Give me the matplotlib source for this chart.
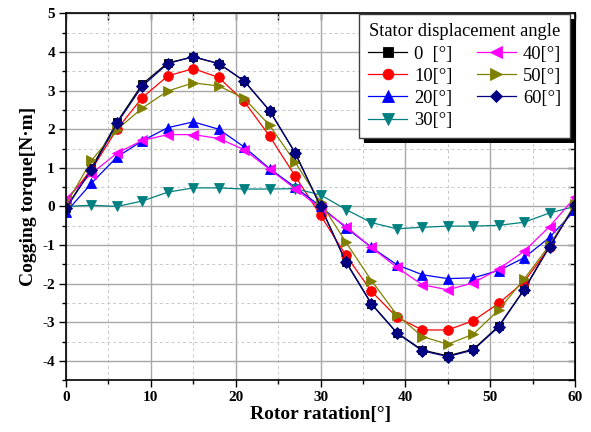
import matplotlib
matplotlib.use("Agg")
import matplotlib.pyplot as plt
from matplotlib.ticker import MultipleLocator
import matplotlib.patheffects as pe

rotor = [0, 3, 6, 9, 12, 15, 18, 21, 24, 27, 30, 33, 36, 39, 42, 45, 48, 51, 54, 57, 60]

t0  = [-0.05, 1.00, 2.18, 3.17, 3.72, 3.87, 3.70, 3.25, 2.48, 1.39, 0.00, -1.43, -2.52, -3.27, -3.72, -3.87, -3.70, -3.10, -2.15, -1.02, 0.02]
t10 = [0.15, 0.95, 2.00, 2.82, 3.38, 3.57, 3.34, 2.72, 1.82, 0.79, -0.23, -1.27, -2.20, -2.87, -3.20, -3.20, -2.96, -2.51, -1.95, -1.06, 0.05]
t20 = [-0.15, 0.60, 1.28, 1.70, 2.04, 2.19, 2.00, 1.54, 0.98, 0.50, 0.00, -0.55, -1.06, -1.51, -1.77, -1.87, -1.85, -1.66, -1.33, -0.80, -0.10]
t30 = [0.00, 0.03, 0.00, 0.14, 0.37, 0.48, 0.48, 0.45, 0.45, 0.46, 0.30, -0.08, -0.42, -0.58, -0.54, -0.51, -0.51, -0.49, -0.41, -0.17, 0.00]
t40 = [0.20, 0.85, 1.38, 1.71, 1.86, 1.86, 1.76, 1.47, 0.96, 0.46, -0.05, -0.52, -1.06, -1.58, -2.03, -2.16, -1.98, -1.62, -1.16, -0.52, 0.24]
t50 = [0.05, 1.19, 1.99, 2.55, 2.99, 3.20, 3.12, 2.80, 2.10, 1.15, 0.11, -0.93, -1.92, -2.81, -3.37, -3.57, -3.31, -2.68, -1.88, -1.00, 0.05]
t60 = [-0.05, 0.95, 2.15, 3.12, 3.70, 3.88, 3.70, 3.25, 2.48, 1.39, 0.00, -1.45, -2.53, -3.28, -3.74, -3.89, -3.72, -3.12, -2.16, -1.04, 0.03]

labels = ["0  [\u00b0]", "10[\u00b0]", "20[\u00b0]", "30[\u00b0]", "40[\u00b0]", "50[\u00b0]", "60[\u00b0]"]
series = [t0, t10, t20, t30, t40, t50, t60]
colors = ["#000000", "#FF0000", "#0000FF", "#008080", "#FF00FF", "#808000", "#000080"]
markers = ["s", "o", "^", "v", "<", ">", "D"]
msizes = [6, 7, 7.5, 7.5, 7.5, 7.5, 6]

plt.rcParams["font.family"] = ["Liberation Serif", "DejaVu Serif"]
plt.rcParams["axes.unicode_minus"] = False

fig = plt.figure(figsize=(5.91, 4.32), dpi=100)
ax = fig.add_axes([0.1117, 0.12, 0.8613, 0.849])

for y, lab, c, m, ms in zip(series, labels, colors, markers, msizes):
    ax.plot(rotor, y, color=c, marker=m, markersize=ms, linewidth=0.9,
            label=lab, markeredgewidth=0.6, markeredgecolor=c)

ax.set_xlim(0, 60)
ax.set_ylim(-4.5, 5)
ax.xaxis.set_major_locator(MultipleLocator(10))
ax.xaxis.set_minor_locator(MultipleLocator(5))
ax.yaxis.set_major_locator(MultipleLocator(1))
ax.yaxis.set_minor_locator(MultipleLocator(0.5))

ax.grid(which="major", color="#a8a8a8", linewidth=1.0, linestyle="-")
ax.grid(which="minor", color="#c8c8c8", linewidth=0.7, linestyle=(0, (3, 3)))
ax.set_axisbelow(True)

ax.tick_params(which="both", direction="out", top=False, right=False, width=1)
ax.tick_params(which="major", length=5, pad=3)
ax.tick_params(which="minor", length=3)
for s in ax.spines.values():
    s.set_linewidth(1.2)

# inward ticks on top and right
ax2 = ax.secondary_xaxis("top")
ax2.xaxis.set_major_locator(MultipleLocator(5))
ax2.tick_params(direction="in", length=5, labeltop=False, width=1)
ax3 = ax.secondary_yaxis("right")
ax3.yaxis.set_major_locator(MultipleLocator(0.5))
ax3.tick_params(direction="in", length=5, labelright=False, width=1)

for lbl in ax.get_xticklabels() + ax.get_yticklabels():
    lbl.set_fontweight("bold")
    lbl.set_fontsize(11)

ax.set_xlabel("Rotor ratation[\u00b0]", fontsize=14, fontweight="bold", labelpad=1)
ax.set_ylabel("Cogging torque[N\u00b7m]", fontsize=14, fontweight="bold")
ax.yaxis.set_label_coords(-0.057, 0.5)

leg = ax.legend(ncol=2, loc="upper right", bbox_to_anchor=(0.991, 0.998),
                title="Stator displacement angle", fontsize=13.3, title_fontsize=13.3,
                frameon=True, fancybox=False, edgecolor="#404040", framealpha=1,
                handlelength=2.1, columnspacing=1.3, labelspacing=0.28,
                handletextpad=0.4, borderpad=0.5, borderaxespad=0, markerscale=1.1)
frame = leg.get_frame()
frame.set_linewidth(1.0)
frame.set_path_effects([pe.SimplePatchShadow(offset=(3.5, -3.5), shadow_rgbFace="black", alpha=1.0),
                        pe.Normal()])
leg.set_zorder(10)

fig.savefig("out.png", dpi=100)
